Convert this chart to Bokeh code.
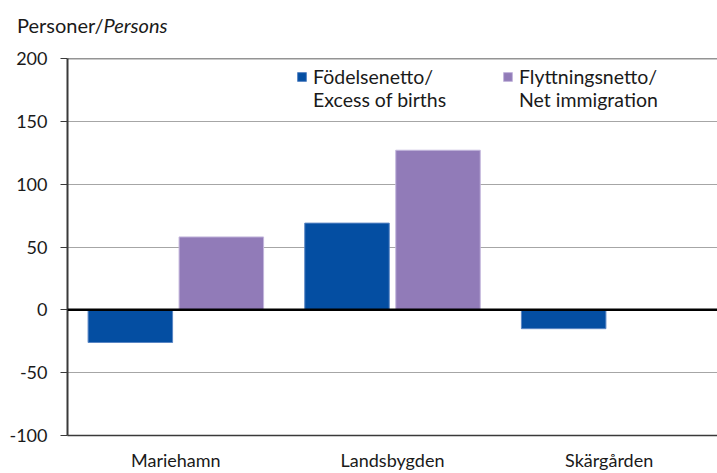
from bokeh.plotting import figure
from bokeh.models import (Span, Legend, LegendItem, FixedTicker, Range1d,
                          ColumnDataSource, Div)
from bokeh.layouts import column
from bokeh.transform import dodge
from bokeh.embed import file_html
from bokeh.resources import INLINE

# ---- data ----
categories = ["Mariehamn", "Landsbygden", "Skärgården"]
births = [-26, 69, -15]          # Födelsenetto / Excess of births
migration = [58, 127, 0]         # Flyttningsnetto / Net immigration
y_ticks = [-100, -50, 0, 50, 100, 150, 200]
series_sv = ["Födelsenetto/", "Flyttningsnetto/"]
series_en = ["Excess of births", "Net immigration"]
y_title_sv = "Personer/"
y_title_en = "Persons"

FONT = "Lato"
BLUE = "#044EA2"
PURPLE = "#917BB8"
TXT = "#1a1a1a"

xs = list(range(len(categories)))
src = ColumnDataSource(dict(x=xs, births=births, migration=migration))

title_div = Div(text=f"{y_title_sv}<i>{y_title_en}</i>", width=717, height=40,
                margin=(0, 0, 0, 0),
                styles={"font-family": FONT, "font-size": "20px", "color": TXT,
                        "line-height": "1.2", "padding-left": "17px",
                        "padding-top": "13px"})

p = figure(frame_width=650, frame_height=377, output_backend="svg",
           toolbar_location=None,
           x_range=Range1d(-0.5, len(categories) - 0.5), y_range=Range1d(-100, 200),
           min_border_left=67, min_border_right=0, min_border_top=18,
           min_border_bottom=30, title=None, margin=(0, 0, 0, 0))
p.outline_line_color = None

r1 = p.vbar(x=dodge("x", -0.21, range=p.x_range), top="births", bottom=0, width=0.39,
            source=src, fill_color=BLUE, line_color="#5a86c4", line_width=1)
r2 = p.vbar(x=dodge("x", 0.21, range=p.x_range), top="migration", bottom=0, width=0.39,
            source=src, fill_color=PURPLE, line_color="#c3b6dc", line_width=1)

# axes
p.xaxis.ticker = FixedTicker(ticks=xs)
p.xaxis.major_label_overrides = {i: c for i, c in enumerate(categories)}
p.xaxis.major_tick_out = 0
p.xaxis.major_tick_in = 0
p.xaxis.minor_tick_out = 0
p.xaxis.minor_tick_in = 0
p.xaxis.axis_line_color = "#3a3a3a"
p.xaxis.axis_line_width = 1.5
p.xaxis.major_label_standoff = 13
p.xaxis.major_label_text_font = FONT
p.xaxis.major_label_text_font_size = "18px"
p.xaxis.major_label_text_color = TXT

p.yaxis.ticker = FixedTicker(ticks=y_ticks)
p.yaxis.major_label_overrides = {t: str(t) for t in y_ticks}
p.yaxis.major_tick_out = 7
p.yaxis.major_tick_in = 0
p.yaxis.minor_tick_out = 0
p.yaxis.minor_tick_in = 0
p.yaxis.major_tick_line_color = "#3a3a3a"
p.yaxis.axis_line_color = "#3a3a3a"
p.yaxis.axis_line_width = 2
p.yaxis.major_label_standoff = 13
p.yaxis.major_label_text_font = FONT
p.yaxis.major_label_text_font_size = "18px"
p.yaxis.major_label_text_color = TXT

p.xgrid.grid_line_color = None
p.ygrid.grid_line_color = "#a6a6a6"
p.ygrid.grid_line_width = 1.2

p.add_layout(Span(location=200, dimension="width", line_color="#2a2a2a", line_width=1.5))
p.add_layout(Span(location=0, dimension="width", line_color="#000000", line_width=2.5))


def make_legend(renderer, sv, en, x_loc):
    return Legend(items=[LegendItem(label=sv, renderers=[renderer]),
                         LegendItem(label=en, renderers=[])],
                  orientation="vertical", location=(x_loc, 324),
                  glyph_width=11, glyph_height=11, label_standoff=6, spacing=0,
                  padding=0, margin=0, border_line_color=None,
                  background_fill_alpha=0, label_text_font=FONT,
                  label_text_font_size="19.5px", label_text_color=TXT,
                  label_height=23)


p.add_layout(make_legend(r1, series_sv[0], series_en[0], 229))
p.add_layout(make_legend(r2, series_sv[1], series_en[1], 435))

layout = column(title_div, p, spacing=0, margin=(0, 0, 0, 0))
open("out.html", "w").write(file_html(layout, INLINE))
